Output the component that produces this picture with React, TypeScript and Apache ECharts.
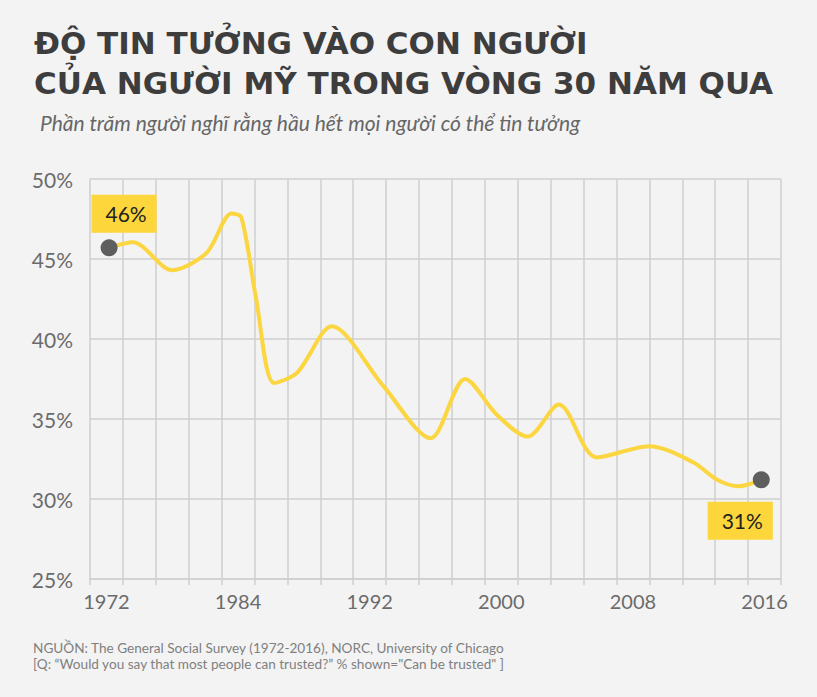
import React, { useEffect, useRef } from "react";
import * as echarts from "echarts";

// x-axis categories (21 equal bands); only some carry a tick label
const categories = [
  "1972", "", "", "", "1984", "", "", "", "1992", "", "", "",
  "2000", "", "", "", "2008", "", "", "", "2016",
];
// positions along the category bands (0..21) and values in %
const trendPos = [
  0.58, 1.3, 2.5, 3.55, 4.3, 4.6, 5.05, 5.6, 6.3, 7.35, 8.9, 10.35, 11.4,
  12.37, 13.3, 14.25, 15.4, 17.0, 18.33, 19.06, 19.7, 20.4,
];
const trendValues = [
  45.7, 46.05, 44.3, 45.4, 47.85, 47.6, 42.5, 37.25, 37.9, 40.8, 37.1, 33.8, 37.5,
  35.25, 33.9, 35.9, 32.6, 33.3, 32.3, 31.2, 30.8, 31.2,
];
const endPointsPos = [0.58, 20.4];
const endPointsValues = [45.7, 31.2];
const yTicks = [25, 30, 35, 40, 45, 50];

const titleLines = [
  "ĐỘ TIN TƯỞNG VÀO CON NGƯỜI",
  "CỦA NGƯỜI MỸ TRONG VÒNG 30 NĂM QUA",
];
const subtitle = "Phần trăm người nghĩ rằng hầu hết mọi người có thể tin tưởng";
const sourceLines = [
  "NGUỒN: The General Social Survey (1972-2016), NORC, University of Chicago",
  "[Q: “Would you say that most people can trusted?” % shown=\"Can be trusted\" ]",
];

export default function App() {
  const ref = useRef<HTMLDivElement>(null);
  useEffect(() => {
    if (!ref.current) return;
    const chart = echarts.init(ref.current, undefined, { renderer: "svg" });
    const gridColor = "#cfcfcf";
    const labelFont = "Lato, 'Open Sans', sans-serif";
    chart.setOption({
      animation: false,
      backgroundColor: "#f3f3f3",
      grid: { left: 90, right: 36, top: 179, bottom: 118 },
      xAxis: [
        {
          type: "category",
          data: categories,
          boundaryGap: true,
          axisLine: { lineStyle: { color: gridColor, width: 1.5 } },
          axisTick: { show: true, interval: 0, length: 6, lineStyle: { color: gridColor, width: 1.5 } },
          axisLabel: {
            interval: 0,
            color: "#6b6b6b",
            fontSize: 20,
            fontFamily: labelFont,
            margin: 12,
          },
          splitLine: { show: true, interval: 0, lineStyle: { color: gridColor, width: 1.5 } },
        },
        { type: "value", min: 0, max: 21, show: false },
      ],
      yAxis: {
        type: "value",
        min: yTicks[0],
        max: yTicks[yTicks.length - 1],
        interval: 5,
        axisLine: { show: false },
        axisTick: { show: false },
        axisLabel: {
          formatter: "{value}%",
          color: "#6b6b6b",
          fontSize: 21,
          fontFamily: labelFont,
          margin: 17,
        },
        splitLine: { lineStyle: { color: gridColor, width: 1.5 } },
      },
      series: [
        {
          type: "line",
          xAxisIndex: 1,
          data: trendPos.map((p, i) => [p, trendValues[i]]),
          smooth: 0.3,
          showSymbol: false,
          lineStyle: { color: "#fbd641", width: 4 },
          z: 3,
        },
        {
          type: "scatter",
          xAxisIndex: 1,
          symbolSize: 17,
          itemStyle: { color: "#5e5e5e", opacity: 1 },
          z: 4,
          data: endPointsPos.map((p, i) => ({
            value: [p, endPointsValues[i]],
            label: {
              show: true,
              position: "inside",
              offset: i === 0 ? [15, -34] : [-21, 41],
              formatter: (prm: any) => Math.round(prm.value[1]) + "%",
              backgroundColor: "#fdd63b",
              color: "#222222",
              fontSize: 21,
              fontFamily: labelFont,
              lineHeight: 24,
              padding: [7, 10, 7, 14],
            },
          })),
        },
      ],
      graphic: [
        {
          type: "text",
          left: 34,
          top: 27,
          style: {
            text: titleLines[0],
            font: "bold 31px 'DejaVu Sans', sans-serif",
            fill: "#3d3d3d",
          },
        },
        {
          type: "text",
          left: 34,
          top: 67,
          style: {
            text: titleLines[1],
            font: "bold 31px 'DejaVu Sans', sans-serif",
            fill: "#3d3d3d",
          },
        },
        {
          type: "text",
          left: 40,
          top: 112,
          style: {
            text: subtitle,
            font: "italic 21px Lato, sans-serif",
            fill: "#666666",
          },
        },
        {
          type: "text",
          left: 33,
          top: 640,
          style: {
            text: sourceLines.join("\n"),
            font: "13.6px Lato, sans-serif",
            lineHeight: 16,
            fill: "#808080",
          },
        },
      ],
    });
    return () => chart.dispose();
  }, []);
  return (
    <div
      ref={ref}
      style={{ position: "fixed", left: 0, top: 0, width: 817, height: 697 }}
    />
  );
}
